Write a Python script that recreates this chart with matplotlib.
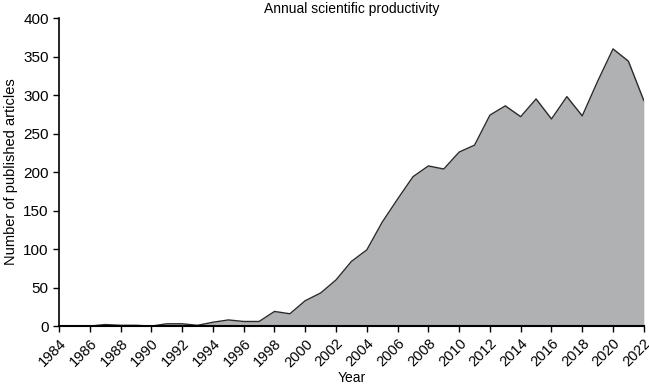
import matplotlib
matplotlib.use('Agg')
import matplotlib.pyplot as plt

plt.rcParams['font.family'] = ['Liberation Sans', 'DejaVu Sans']

years = list(range(1984, 2023))
articles = [0, 0, 0, 2, 1, 1, 0, 3, 3, 1, 5, 8, 6, 6, 19, 16, 33, 43, 60, 84, 99,
            135, 165, 194, 208, 204, 226, 235, 274, 286, 272, 295, 269, 298, 273,
            318, 360, 344, 293]
tick_years = list(range(1984, 2023, 2))

fig = plt.figure(figsize=(6.49, 3.85), dpi=100)
ax = fig.add_axes([0.091, 0.153, 0.901, 0.8])
ax.fill_between(years, articles, 0, color='#b0b1b3', linewidth=0)
ax.plot(years, articles, color='#2a2a2a', linewidth=1)

ax.set_xlim(1984, 2022)
ax.set_ylim(0, 400)
ax.set_xticks(tick_years)
ax.set_xticklabels([str(y) for y in tick_years], rotation=45, ha='right',
                   rotation_mode='anchor', fontsize=10.5)
ax.set_yticks(range(0, 401, 50))
ax.tick_params(axis='y', labelsize=11)
ax.spines['top'].set_visible(False)
ax.spines['right'].set_visible(False)
ax.spines['left'].set_linewidth(1.2)
ax.spines['bottom'].set_linewidth(1.5)
ax.tick_params(direction='out', length=4, width=1)

ax.set_xlabel('Year', fontsize=10, labelpad=1)
ax.set_ylabel('Number of published articles', fontsize=10.5)
ax.set_title('Annual scientific productivity', fontsize=10, pad=4)

fig.savefig('out.png', dpi=100)
